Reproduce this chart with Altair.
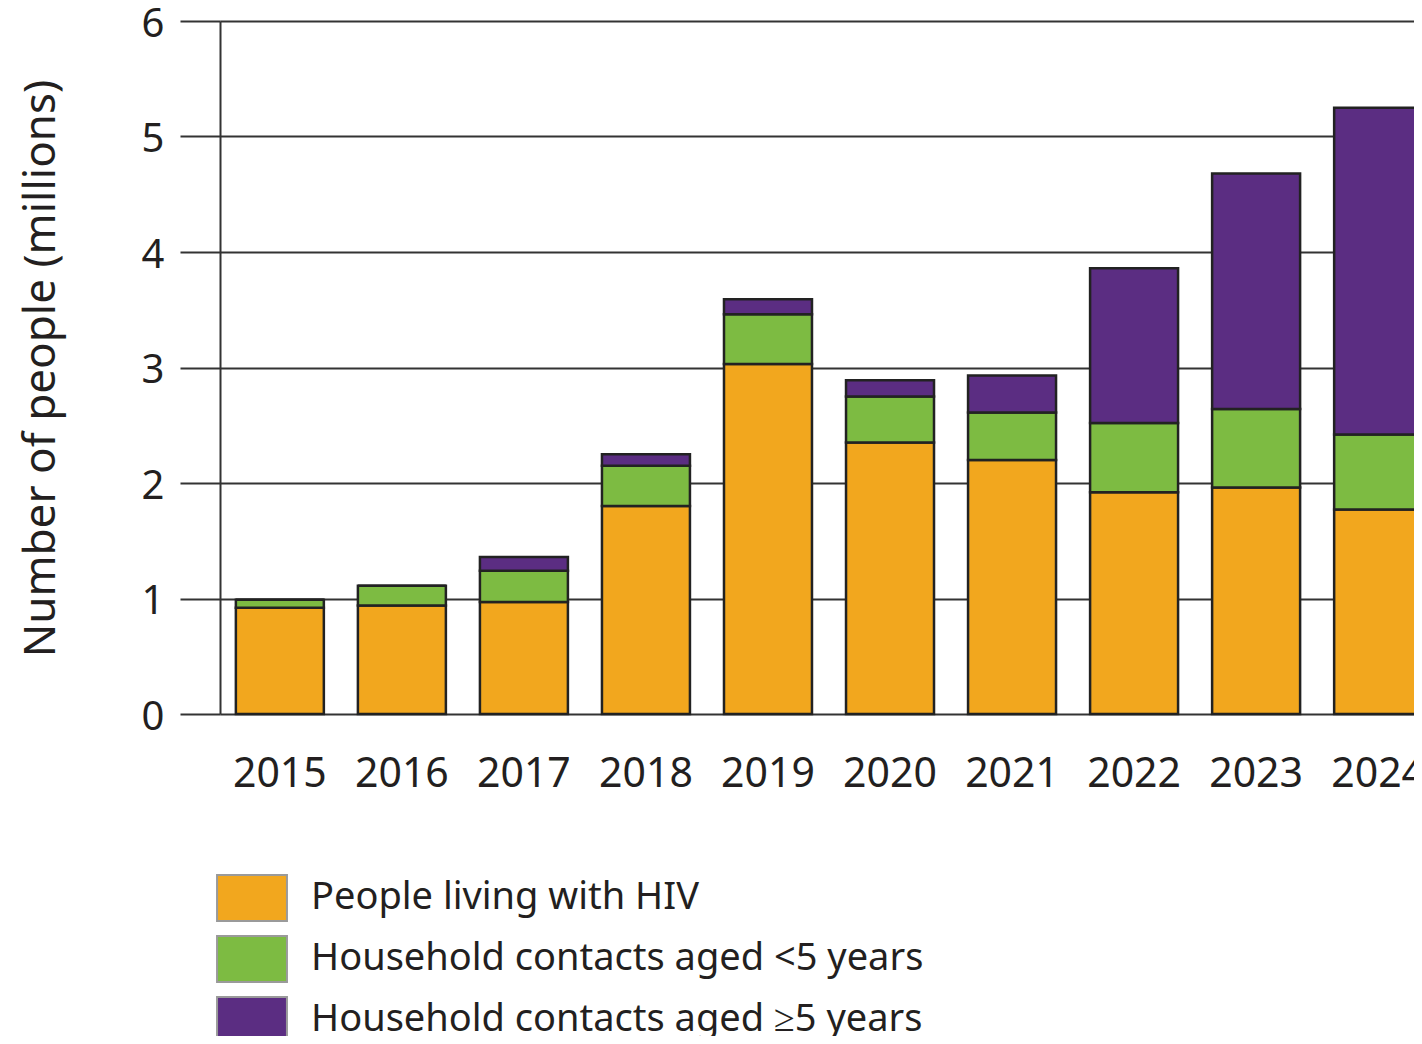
import altair as alt
import pandas as pd

years = ["2015", "2016", "2017", "2018", "2019", "2020", "2021", "2022", "2023", "2024"]
series = ["People living with HIV", "Household contacts aged <5 years", "Household contacts aged ≥5 years"]
plhiv = [0.92, 0.94, 0.97, 1.80, 3.03, 2.35, 2.20, 1.92, 1.96, 1.77]
hhc_u5 = [0.07, 0.17, 0.27, 0.35, 0.43, 0.40, 0.41, 0.60, 0.68, 0.65]
hhc_5p = [0.00, 0.00, 0.12, 0.10, 0.13, 0.14, 0.32, 1.34, 2.04, 2.83]
colors = ["#F2A71E", "#7DBB42", "#5B2D82"]

rows = []
for vals, s, o in [(plhiv, series[0], 0), (hhc_u5, series[1], 1), (hhc_5p, series[2], 2)]:
    for y, v in zip(years, vals):
        rows.append({"year": y, "series": s, "value": v, "ord": o})
df = pd.DataFrame(rows)

FONT = "Noto Sans"
TXT = "#231F20"

chart = alt.Chart(df).mark_bar(stroke="#222222", strokeWidth=2.5).encode(
    x=alt.X("year:N", sort=years,
            scale=alt.Scale(paddingInner=0.279, paddingOuter=0.13, range=[0, 1218]),
            axis=alt.Axis(title=None, labelAngle=0, ticks=False, domain=False, grid=False,
                          labelFont=FONT, labelFontSize=41, labelColor=TXT,
                          labelPadding=40)),
    y=alt.Y("value:Q", stack="zero",
            scale=alt.Scale(domain=[0, 6], nice=False),
            axis=alt.Axis(values=[0, 1, 2, 3, 4, 5, 6], format="d",
                          title="Number of people (millions)",
                          titleFont=FONT, titleFontSize=44, titleFontWeight="normal",
                          titleColor=TXT, titleAngle=-90, titleX=-179, titleY=347,
                          titleAlign="center", titleBaseline="middle",
                          labelFont=FONT, labelFontSize=40, labelColor=TXT,
                          labelPadding=16, labelOffset=3,
                          grid=True, gridColor="#333333", gridWidth=2,
                          tickSize=40, tickColor="#333333", tickWidth=2,
                          domain=True, domainColor="#333333", domainWidth=2)),
    color=alt.Color("series:N", sort=series,
                    scale=alt.Scale(domain=series, range=colors),
                    legend=alt.Legend(title=None, orient="none", legendX=8, legendY=853,
                                      direction="vertical",
                                      symbolType="M-1.52,-1H1.52V1H-1.52Z",
                                      symbolSize=2116, symbolStrokeColor="#9a9a9a",
                                      symbolStrokeWidth=2, symbolOpacity=1,
                                      labelFont=FONT, labelFontSize=38, labelColor=TXT,
                                      labelOffset=35, labelLimit=1000, rowPadding=7)),
    order=alt.Order("ord:Q", sort="ascending"),
).properties(
    width=1194, height=693,
    padding={"left": 212, "top": 13, "right": 0, "bottom": 322},
    autosize=alt.AutoSizeParams(type="none"),
).configure_view(stroke=None)

chart.save("out.html", embed_options={"renderer": "svg", "actions": False})
